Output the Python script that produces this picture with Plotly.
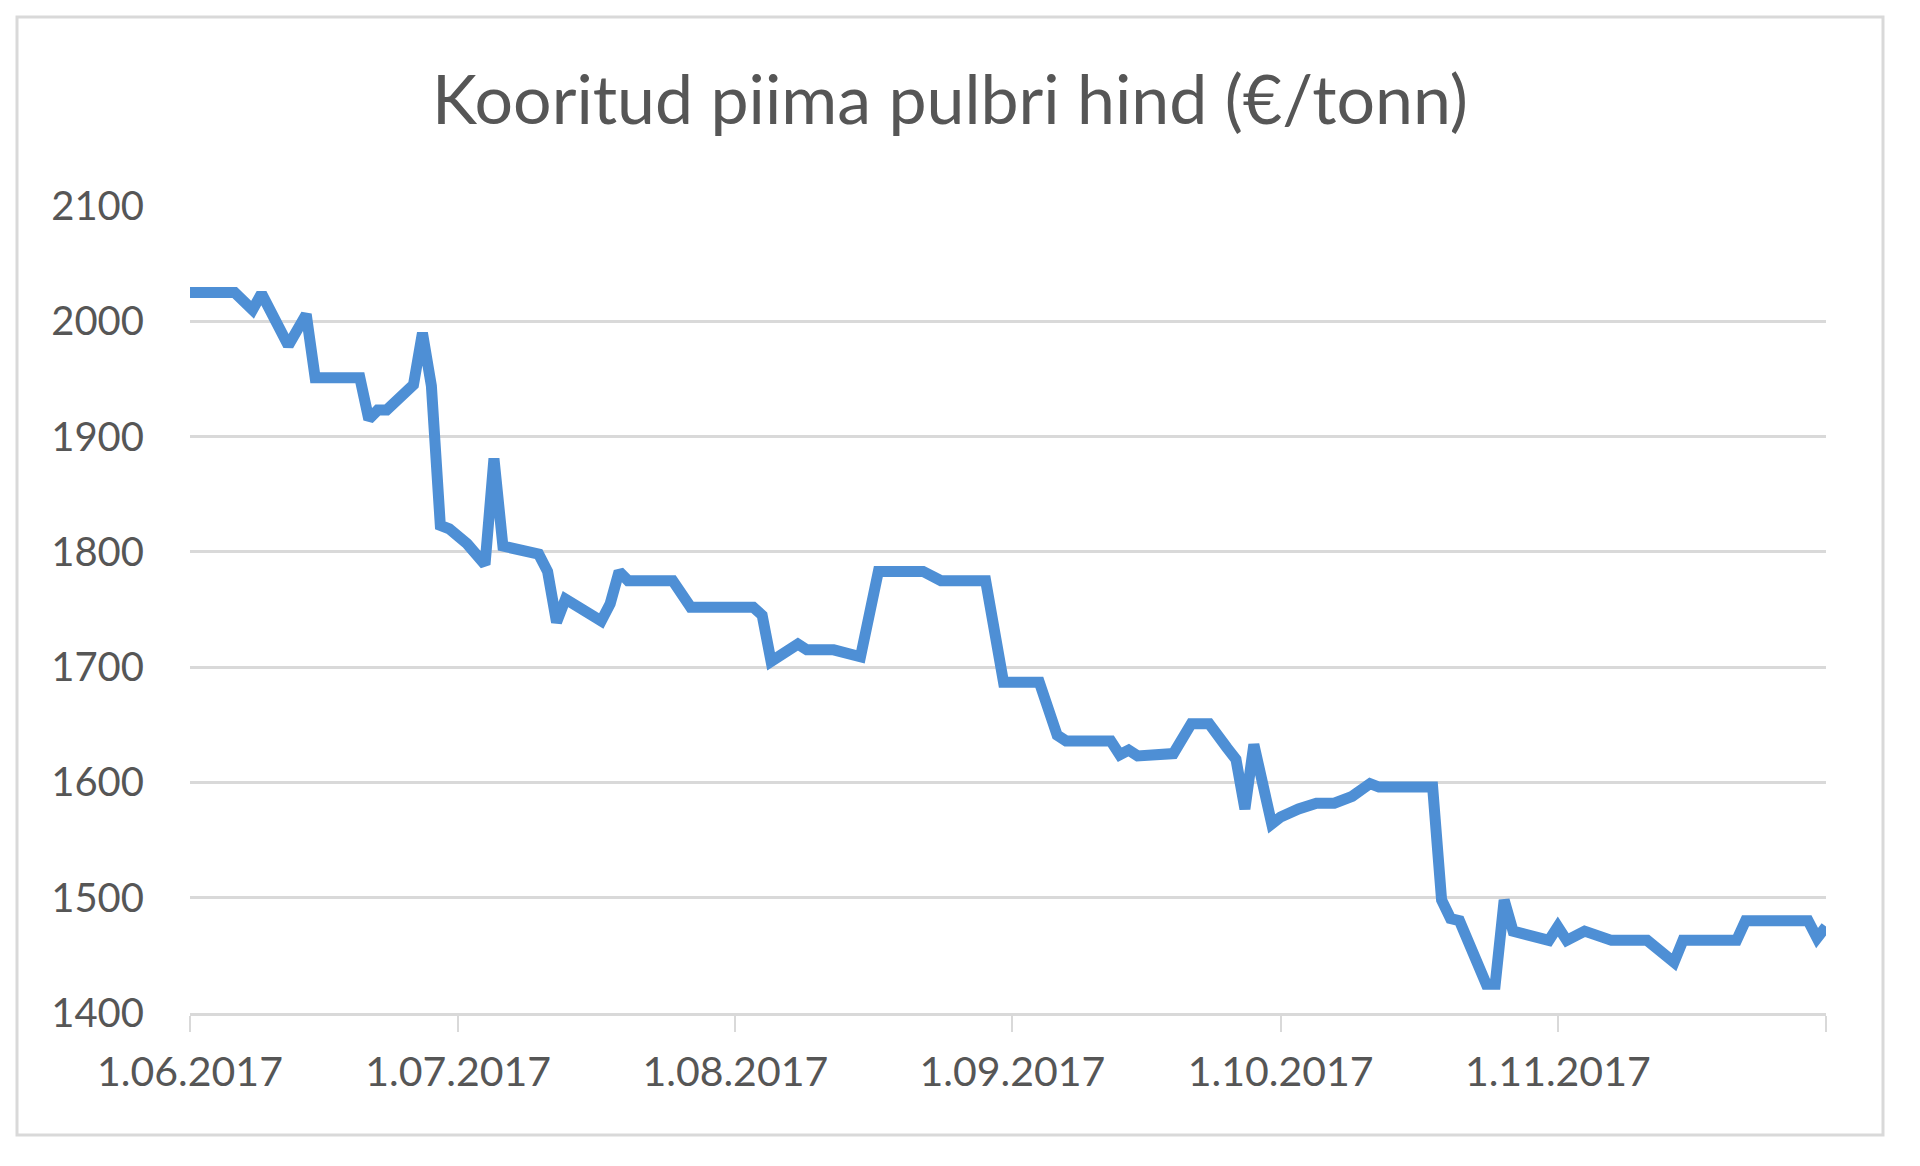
import plotly.graph_objects as go

# Data
dates = [
    "2017-06-01", "2017-06-06", "2017-06-08", "2017-06-09", "2017-06-12", "2017-06-14",
    "2017-06-15", "2017-06-20", "2017-06-21", "2017-06-22", "2017-06-23", "2017-06-26",
    "2017-06-27", "2017-06-28", "2017-06-29", "2017-06-30", "2017-07-02", "2017-07-04",
    "2017-07-05", "2017-07-06", "2017-07-10", "2017-07-11", "2017-07-12", "2017-07-13",
    "2017-07-17", "2017-07-18", "2017-07-19", "2017-07-20", "2017-07-25", "2017-07-27",
    "2017-08-03", "2017-08-04", "2017-08-05", "2017-08-08", "2017-08-09", "2017-08-12",
    "2017-08-15", "2017-08-17", "2017-08-22", "2017-08-24", "2017-08-29", "2017-08-31",
    "2017-09-04", "2017-09-06", "2017-09-07", "2017-09-12", "2017-09-13", "2017-09-14",
    "2017-09-15", "2017-09-19", "2017-09-21", "2017-09-23", "2017-09-25", "2017-09-26",
    "2017-09-27", "2017-09-28", "2017-09-30", "2017-10-01", "2017-10-03", "2017-10-05",
    "2017-10-07", "2017-10-09", "2017-10-11", "2017-10-12", "2017-10-18", "2017-10-19",
    "2017-10-20", "2017-10-21", "2017-10-24", "2017-10-25", "2017-10-26", "2017-10-27",
    "2017-10-31", "2017-11-01", "2017-11-02", "2017-11-04", "2017-11-07", "2017-11-11",
    "2017-11-14", "2017-11-15", "2017-11-21", "2017-11-22", "2017-11-29", "2017-11-30",
    "2017-12-01",
]
prices = [
    2025, 2025, 2010, 2024, 1979, 2006,
    1951, 1951, 1915, 1923, 1923, 1945,
    1990, 1944, 1823, 1820, 1807, 1789,
    1881, 1805, 1798, 1783, 1739, 1759,
    1740, 1755, 1783, 1775, 1775, 1752,
    1752, 1745, 1705, 1720, 1715, 1715,
    1709, 1783, 1783, 1775, 1775, 1687,
    1687, 1641, 1636, 1636, 1624, 1628,
    1623, 1625, 1651, 1651, 1630, 1620,
    1577, 1633, 1564, 1570, 1577, 1582,
    1582, 1588, 1599, 1596, 1596, 1498,
    1482, 1480, 1425, 1425, 1498, 1471,
    1463, 1475, 1463, 1471, 1463, 1463,
    1444, 1463, 1463, 1480, 1480, 1465,
    1475,
]

x_tick_vals = ["2017-06-01", "2017-07-01", "2017-08-01", "2017-09-01",
               "2017-10-01", "2017-11-01", "2017-12-01"]
x_tick_text = ["1.06.2017", "1.07.2017", "1.08.2017", "1.09.2017",
               "1.10.2017", "1.11.2017", ""]
y_tick_vals = [1400, 1500, 1600, 1700, 1800, 1900, 2000, 2100]

title_text = "Kooritud piima pulbri hind (€/tonn)"

# page body has an 8px margin; size the figure so it fits the window exactly
OFF = 8
W, H = 1920 - OFF, 1166 - OFF
ML, MR, MT, MB = 190 - OFF, 94, 206 - OFF, 153
PW, PH = W - ML - MR, H - MT - MB

def px_to_paper_x(px):
    return (px - OFF - ML) / PW

def px_to_paper_y(py):
    return (H - MB - (py - OFF)) / PH

grey_text = "#565656"
grid = "#D9D9D9"
font_family = "Lato, Calibri, Carlito, sans-serif"

fig = go.Figure()
fig.add_trace(go.Scatter(
    x=dates, y=prices, mode="lines",
    line=dict(color="#4E8FD5", width=11),
    hoverinfo="x+y", showlegend=False,
))

fig.update_layout(
    width=W, height=H,
    margin=dict(l=ML, r=MR, t=MT, b=MB),
    paper_bgcolor="white", plot_bgcolor="white",
    title=dict(text=title_text, x=(950 - OFF) / W, xanchor="center", xref="container",
               y=1 - (100 - OFF) / H, yanchor="middle", yref="container",
               font=dict(family=font_family, size=68, color=grey_text)),
    font=dict(family=font_family, color=grey_text),
    shapes=[dict(type="rect", xref="paper", yref="paper",
                 x0=px_to_paper_x(17), x1=px_to_paper_x(1883),
                 y0=px_to_paper_y(1135), y1=px_to_paper_y(17),
                 line=dict(color=grid, width=3), fillcolor="rgba(0,0,0,0)",
                 layer="below")],
)

fig.update_xaxes(
    type="date", range=["2017-06-01", "2017-12-01"],
    tickvals=x_tick_vals, ticktext=x_tick_text,
    showgrid=False, zeroline=False,
    showline=True, linecolor=grid, linewidth=3,
    ticks="outside", ticklen=16, tickwidth=2, tickcolor=grid,
    ticklabelstandoff=5,
    tickfont=dict(family=font_family, size=41, color=grey_text),
)
fig.update_yaxes(
    range=[1400, 2100], tickvals=y_tick_vals,
    showgrid=True, gridcolor=grid, gridwidth=3,
    zeroline=False, showline=False, ticks="",
    ticklabelstandoff=45,
    tickfont=dict(family=font_family, size=40, color=grey_text),
)

fig.write_html("out.html")
